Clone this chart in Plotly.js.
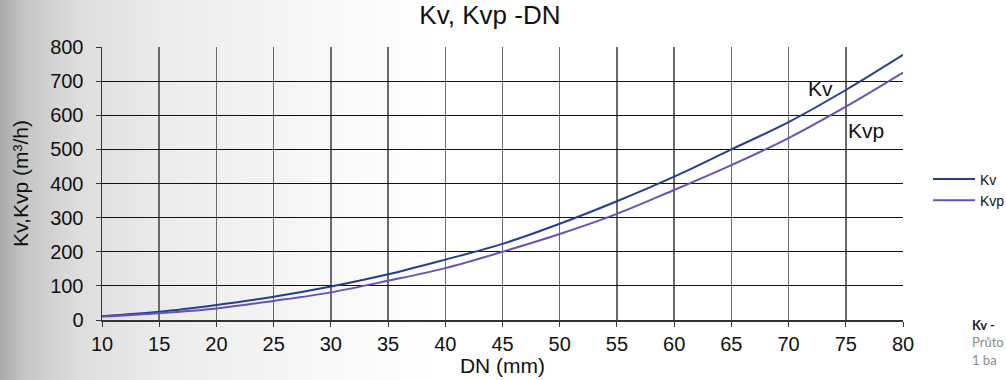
<!DOCTYPE html>
<html>
<head>
<meta charset="utf-8">
<script src="https://cdn.plot.ly/plotly-3.0.1.min.js"></script>
<style>
html,body{margin:0;padding:0;width:1006px;height:380px;overflow:hidden;}
body{background:
  linear-gradient(to right, #a9a9a9 0px, #c6c6c6 25px, #dedede 80px, #ececec 170px, #f6f6f6 300px, #ffffff 430px);}
#chart{width:1006px;height:380px;}
</style>
</head>
<body>
<div id="chart"></div>
<script>
const dn  = [10, 15, 20, 25, 30, 35, 40, 45, 50, 55, 60, 65, 70, 75, 80];
const kv  = [11, 24, 44, 68, 98, 134, 177, 223, 282, 348, 420, 500, 580, 674, 777];
const kvp = [10, 20, 34, 56, 81, 115, 152, 200, 252, 311, 381, 454, 533, 625, 725];
const seriesNames = ["Kv", "Kvp"];
const xTicks = [10, 15, 20, 25, 30, 35, 40, 45, 50, 55, 60, 65, 70, 75, 80];
const yTicks = [0, 100, 200, 300, 400, 500, 600, 700, 800];
const sideTexts = ["<b>Kv -</b>", "Průto", "1 ba"];

const font = "Liberation Sans, Arial, sans-serif";
const traces = [
  {x: dn, y: kv, name: seriesNames[0], mode: "lines", line: {color: "#213f8e", width: 2, shape: "spline"}},
  {x: dn, y: kvp, name: seriesNames[1], mode: "lines", line: {color: "#6a50b6", width: 2, shape: "spline"}}
];
const W = 1006, H = 380;
const L = 102, R = 103, T = 47, B = 60;
const pw = W - L - R, ph = H - T - B;
const layout = {
  width: W, height: H,
  margin: {l: L, r: R, t: T, b: B, autoexpand: false},
  paper_bgcolor: "rgba(0,0,0,0)", plot_bgcolor: "rgba(0,0,0,0)",
  title: {text: "Kv, Kvp -DN", font: {family: font, size: 26, color: "#111"}, x: 0.487, xanchor: "center", y: 0.985, yanchor: "top"},
  xaxis: {
    range: [10, 80], tickvals: xTicks, ticktext: xTicks.map(String),
    showgrid: true, gridcolor: "#6a6a6a", gridwidth: 1.5,
    zeroline: false, showline: true, linecolor: "#333", linewidth: 1.5,
    ticks: "outside", ticklen: 5, tickcolor: "#333",
    tickfont: {family: font, size: 20, color: "#111"},
    title: {text: "DN (mm)", font: {family: font, size: 21, color: "#111"}, standoff: 0}
  },
  yaxis: {
    range: [0, 800], tickvals: yTicks, ticktext: yTicks.map(String),
    showgrid: true, gridcolor: "#111", gridwidth: 1,
    zeroline: false, showline: true, linecolor: "#333", linewidth: 1.5,
    ticks: "outside", ticklen: 5, tickcolor: "#333", ticklabelstandoff: 8,
    tickfont: {family: font, size: 20, color: "#111"},
    title: {text: "Kv,Kvp (m³/h)", font: {family: font, size: 21, color: "#111"}, standoff: 16}
  },
  showlegend: true,
  legend: {xref: "container", yref: "container", x: 928 / W, y: (H - 190) / H, xanchor: "left", yanchor: "middle",
           bgcolor: "rgba(0,0,0,0)", font: {family: font, size: 14, color: "#111"}, tracegroupgap: 0, itemwidth: 42},
  annotations: [
    {x: 72.8, y: 677, xref: "x", yref: "y", text: "Kv", showarrow: false, font: {family: font, size: 21, color: "#111"}},
    {x: 76.8, y: 554, xref: "x", yref: "y", text: "Kvp", showarrow: false, font: {family: font, size: 21, color: "#111"}}
  ]
};
const sidePos = [{px: 970, py: 325, c: "#222"}, {px: 970, py: 342, c: "#8a8a8a"}, {px: 970, py: 360, c: "#8a8a8a"}];
layout.annotations = layout.annotations.concat(sidePos.map((p, i) => ({
  x: (p.px - L) / pw, y: (H - B - p.py) / ph, xref: "paper", yref: "paper",
  xanchor: "left", yanchor: "middle", text: sideTexts[i], showarrow: false,
  font: {family: "Lato, DejaVu Sans, sans-serif", size: 13, color: p.c}
})));
Plotly.newPlot("chart", traces, layout, {displayModeBar: false, staticPlot: true});
</script>
</body>
</html>
